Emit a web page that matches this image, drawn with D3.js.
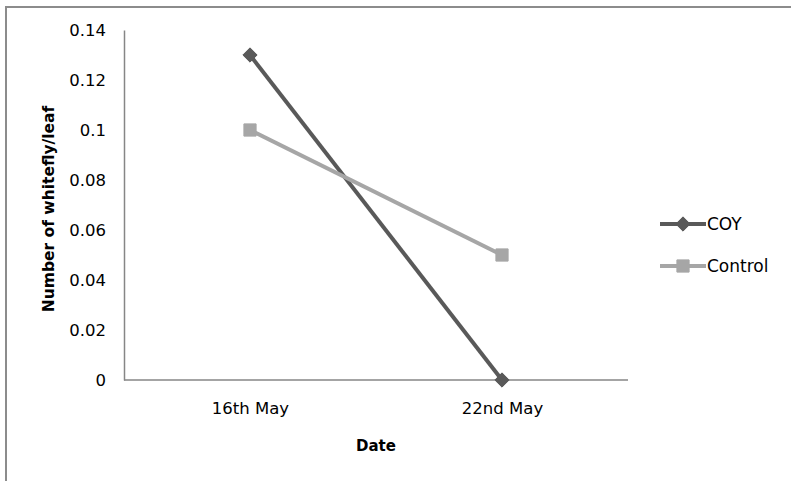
<!DOCTYPE html>
<html>
<head>
<meta charset="utf-8">
<script src="https://cdn.jsdelivr.net/npm/d3@7"></script>
<style>
	body { margin: 0; background: #fff; }
	text { font-family: 'DejaVu Sans', 'Noto Sans', sans-serif; fill: #000; }
</style>
</head>
<body>
<svg id="chart" width="791" height="481"></svg>
<script>
const dates = ['16th May', '22nd May'];
const coyValues = [0.13, 0];
const controlValues = [0.1, 0.05];
const yTicks = [0, 0.02, 0.04, 0.06, 0.08, 0.1, 0.12, 0.14];

const series = [
	{name: 'COY', values: coyValues, color: '#595959', marker: 'diamond'},
	{name: 'Control', values: controlValues, color: '#a6a6a6', marker: 'square'},
];

const svg = d3.select('#chart');

// outer chart frame (right and bottom edges fall outside the picture)
svg.append('rect')
	.attr('x', 6)
	.attr('y', 7)
	.attr('width', 800)
	.attr('height', 500)
	.attr('fill', 'none')
	.attr('stroke', '#8c8c8c')
	.attr('stroke-width', 2);

const margins = {left: 124, top: 30, right: 163, bottom: 101};
const width = 791 - margins.left - margins.right;
const height = 481 - margins.top - margins.bottom;

const g = svg.append('g')
	.attr('transform', `translate(${margins.left},${margins.top})`);

const x = d3.scalePoint()
	.domain(dates)
	.range([0, width])
	.padding(0.5);

const y = d3.scaleLinear()
	.domain([0, 0.14])
	.range([height, 0]);

const yAxis = d3.axisLeft(y)
	.tickValues(yTicks)
	.tickSize(0)
	.tickPadding(18)
	.tickFormat(d => d === 0 ? '0' : d3.format('')(+d.toFixed(2)));

const yG = g.append('g').call(yAxis);
yG.select('.domain').attr('stroke', '#868686').attr('stroke-width', 1.5);
yG.selectAll('text').style('font-size', '16.5px').attr('fill', '#000');

const xAxis = d3.axisBottom(x)
	.tickSize(0)
	.tickPadding(22);

const xG = g.append('g')
	.attr('transform', `translate(0,${height})`)
	.call(xAxis);
xG.select('.domain').attr('stroke', '#868686').attr('stroke-width', 1.5)
	.attr('d', `M0,0H${width}`);
xG.selectAll('text').style('font-size', '16.5px').attr('fill', '#000');

// axis titles
svg.append('text')
	.attr('transform', `translate(54,${margins.top + height / 2 + 4}) rotate(-90)`)
	.attr('text-anchor', 'middle')
	.style('font-size', '15.5px')
	.style('font-weight', 'bold')
	.text('Number of whitefly/leaf');

svg.append('text')
	.attr('x', margins.left + width / 2)
	.attr('y', 451)
	.attr('text-anchor', 'middle')
	.style('font-size', '15px')
	.style('font-weight', 'bold')
	.text('Date');

const symbolFor = m => m === 'diamond'
	? d3.symbol().type(d3.symbolDiamond2).size(130)
	: d3.symbol().type(d3.symbolSquare2).size(190);

const line = d3.line()
	.x((d, i) => x(dates[i]))
	.y(d => y(d));

series.forEach(s => {
	g.append('path')
		.datum(s.values)
		.attr('fill', 'none')
		.attr('stroke', s.color)
		.attr('stroke-width', 4)
		.attr('d', line);
});

series.forEach(s => {
	g.selectAll(null)
		.data(s.values)
		.enter().append('path')
		.attr('transform', (d, i) => `translate(${x(dates[i])},${y(d)})`)
		.attr('d', symbolFor(s.marker)())
		.attr('fill', s.color)
		.attr('stroke', s.color)
		.attr('stroke-width', 1);
});

// legend
const legend = svg.append('g')
	.attr('transform', 'translate(660,224)');

const item = legend.selectAll('g')
	.data(series)
	.enter().append('g')
	.attr('transform', (d, i) => `translate(0,${i * 42})`);

item.append('line')
	.attr('x1', 0)
	.attr('x2', 46)
	.attr('stroke', d => d.color)
	.attr('stroke-width', 4);

item.append('path')
	.attr('transform', 'translate(23,0)')
	.attr('d', d => symbolFor(d.marker)())
	.attr('fill', d => d.color)
	.attr('stroke', d => d.color);

item.append('text')
	.attr('x', 47)
	.attr('dy', '0.35em')
	.style('font-size', '17px')
	.text(d => d.name);
</script>
</body>
</html>
